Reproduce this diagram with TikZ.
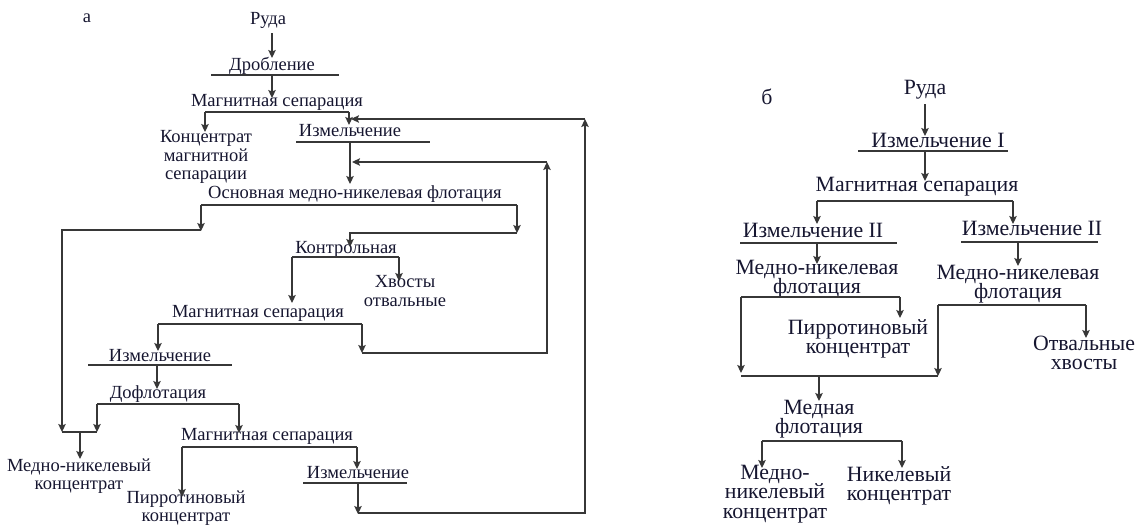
\documentclass[tikz,border=0pt]{standalone}
\usepackage{fontspec}
\setmainfont{Liberation Serif}
\usetikzlibrary{arrows.meta}
\definecolor{txt}{RGB}{22,22,48}
\definecolor{lncol}{RGB}{55,55,55}
\begin{document}
\begin{tikzpicture}[x=1pt,y=-1pt,
  ln/.style={line width=1.1pt, draw=lncol},
  arr/.style={ln,-{Stealth[length=8pt,width=7.5pt,inset=1.5pt]}},
  ta/.style={inner sep=0pt, align=center, text=txt, font=\fontsize{18.5}{18.5}\selectfont},
  tb/.style={inner sep=0pt, align=center, text=txt, font=\fontsize{21.8}{19.5}\selectfont}]
\useasboundingbox (0,0) rectangle (1141,525);
% ---------- panel a ----------
\node[ta] (la) at (87,18) {а};
\node[ta] (ruda) at (268,20) {Руда};
\node[ta] (drob) at (272,66) {Дробление};
\node[ta] (ms1) at (277,102) {Магнитная сепарация};
\node[ta] (kms) at (206,157) {Концентрат\\магнитной\\сепарации};
\node[ta] (iz1) at (350,131) {Измельчение};
\node[ta] (osn) at (355,194) {Основная медно-никелевая флотация};
\node[ta] (kontr) at (346,249) {Контрольная};
\node[ta] (hv) at (405,291) {Хвосты\\отвальные};
\node[ta] (ms2) at (258,313) {Магнитная сепарация};
\node[ta] (iz2) at (160,356) {Измельчение};
\node[ta] (dofl) at (158,394) {Дофлотация};
\node[ta] (mnk) at (79,476) {Медно-никелевый\\концентрат};
\node[ta] (ms3) at (267,436) {Магнитная сепарация};
\node[ta] (pk) at (186,508) {Пирротиновый\\концентрат};
\node[ta] (iz3) at (358,473) {Измельчение};

\coordinate (drobL) at (211,75); \coordinate (drobR) at (339,75);
\coordinate (ms1L) at (205,112); \coordinate (ms1R) at (349,112);
\coordinate (iz1L) at (296,142); \coordinate (iz1R) at (430,142);
\coordinate (osnL) at (201,205); \coordinate (osnR) at (517,205);
\coordinate (kL) at (292,257); \coordinate (kR) at (399,257);
\coordinate (ms2L) at (158,324); \coordinate (ms2R) at (362,324);
\coordinate (iz2L) at (88,365); \coordinate (iz2R) at (232,365);
\coordinate (dL) at (97,404); \coordinate (dR) at (239,404);
\coordinate (ms3L) at (182,447); \coordinate (ms3R) at (357,447);
\coordinate (iz3L) at (303,483); \coordinate (iz3R) at (407,483);
\coordinate (jn) at (80,432);

\draw[arr] (272,33) -- (272,58);
\draw[ln] (drobL) -- (drobR);
\draw[arr] (272,75) -- (272,98);
\draw[ln] (ms1L) -- (ms1R);
\draw[arr] (ms1L) -- (205,132);
\draw[arr] (ms1R) -- (349,125);
\draw[ln] (iz1L) -- (iz1R);
\draw[arr] (350,142) -- (350,184);
\draw[ln] (osnL) -- (osnR);
\draw[arr] (osnL) -- (201,231);
\draw[arr] (osnR) -- (517,233);
\draw[arr] (201,230) -- (62,230) -- (62,432);
\draw[arr] (517,233) -- (350,233) -- (350,247);
\draw[ln] (kL) -- (kR);
\draw[arr] (kL) -- (292,303);
\draw[arr] (kR) -- (399,281);
\draw[ln] (ms2L) -- (ms2R);
\draw[arr] (ms2L) -- (158,351);
\draw[arr] (ms2R) -- (362,353);
\draw[arr] (362,353) -- (547,353) -- (547,162);
\draw[arr] (547,162) -- (352,162);
\draw[ln] (iz2L) -- (iz2R);
\draw[arr] (157,365) -- (157,389);
\draw[ln] (dL) -- (dR);
\draw[arr] (dL) -- (97,432);
\draw[arr] (dR) -- (239,433);
\draw[ln] (62,432) -- (97,432);
\draw[arr] (jn) -- (80,459);
\draw[ln] (ms3L) -- (ms3R);
\draw[arr] (ms3L) -- (182,497);
\draw[arr] (ms3R) -- (357,469);
\draw[ln] (iz3L) -- (iz3R);
\draw[arr] (358,483) -- (358,514);
\draw[arr] (358,513) -- (585,513) -- (585,119);
\draw[arr] (585,119) -- (351,119);

% ---------- panel b ----------
\node[tb] (lb) at (767,97) {б};
\node[tb] (rudab) at (925,90) {Руда};
\node[tb] (izI) at (938,140) {Измельчение I};
\node[tb] (msb) at (917,187) {Магнитная сепарация};
\node[tb] (izIIl) at (813,230) {Измельчение II};
\node[tb] (izIIr) at (1032,228) {Измельчение II};
\node[tb] (mnfl) at (817,279) {Медно-никелевая\\флотация};
\node[tb] (mnfr) at (1018,284) {Медно-никелевая\\флотация};
\node[tb] (pkb) at (858,339) {Пирротиновый\\концентрат};
\node[tb] (ohv) at (1084,353) {Отвальные\\хвосты};
\node[tb] (mf) at (819,419) {Медная\\флотация};
\node[tb] (mnkb) at (775,494) {Медно-\\никелевый\\концентрат};
\node[tb] (nk) at (899,486) {Никелевый\\концентрат};

\coordinate (izIL) at (858,151); \coordinate (izIR) at (1008,151);
\coordinate (msbL) at (817,201); \coordinate (msbR) at (1013,201);
\coordinate (iz2lL) at (740,243); \coordinate (iz2lR) at (897,243);
\coordinate (iz2rL) at (961,242); \coordinate (iz2rR) at (1098,242);
\coordinate (flL) at (741,297); \coordinate (flR) at (900,297);
\coordinate (frL) at (938,305); \coordinate (frR) at (1086,305);
\coordinate (mfL) at (762,441); \coordinate (mfR) at (902,441);

\draw[arr] (925,104) -- (925,136);
\draw[ln] (izIL) -- (izIR);
\draw[arr] (925,151) -- (925,181);
\draw[ln] (msbL) -- (msbR);
\draw[arr] (msbL) -- (817,224);
\draw[arr] (msbR) -- (1013,224);
\draw[ln] (iz2lL) -- (iz2lR);
\draw[arr] (817,243) -- (817,264);
\draw[ln] (iz2rL) -- (iz2rR);
\draw[arr] (1018,242) -- (1018,266);
\draw[ln] (flL) -- (flR);
\draw[arr] (flR) -- (900,318);
\draw[arr] (flL) -- (741,373);
\draw[ln] (frL) -- (frR);
\draw[arr] (frL) -- (938,376);
\draw[arr] (frR) -- (1086,338);
\draw[ln] (741,376) -- (938,376);
\draw[arr] (819,376) -- (819,401);
\draw[ln] (mfL) -- (mfR);
\draw[arr] (mfL) -- (762,468);
\draw[arr] (mfR) -- (902,468);
\end{tikzpicture}
\end{document}
